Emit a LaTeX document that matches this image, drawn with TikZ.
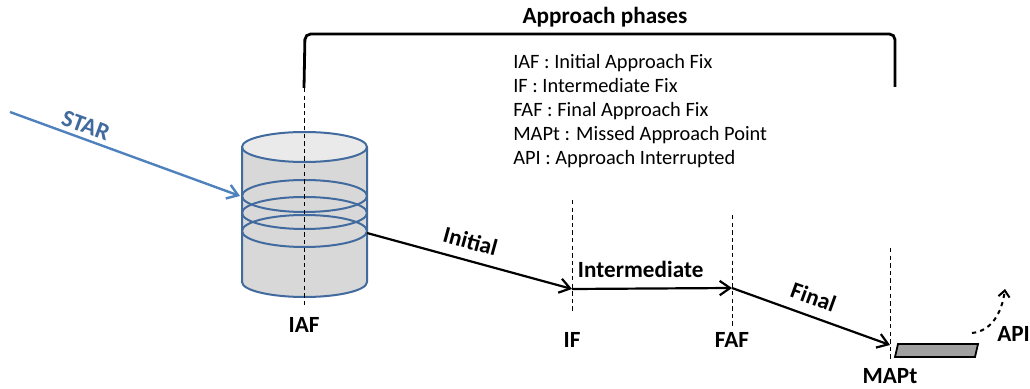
\documentclass[tikz,border=0pt]{standalone}
\usepackage{fontspec}
\setmainfont{Carlito}
\usetikzlibrary{positioning,arrows.meta,calc}
\definecolor{starblue}{RGB}{79,129,189}
\definecolor{drumblue}{RGB}{65,106,158}
\definecolor{drumgray}{RGB}{216,216,216}
\definecolor{lidgray}{RGB}{234,234,234}
\definecolor{rwygray}{RGB}{160,160,160}
\tikzstyle{fixline}=[dash pattern=on 1.1mm off 0.8mm, line width=0.7pt]
\tikzstyle{fixlbl}=[font=\bfseries\fontsize{16.5}{18}\selectfont, inner sep=0pt]
\tikzstyle{segarrow}=[-{Straight Barb[length=2.6mm,width=3.6mm]}, line width=0.55mm]
\tikzstyle{seglbl}=[font=\bfseries\fontsize{16.5}{18}\selectfont, sloped, above, inner sep=7pt]

\begin{document}
\begin{tikzpicture}[x=0.25mm, y=-0.25mm]
\useasboundingbox (0,0) rectangle (1030,389);

% holding pattern drum
\fill[drumgray] (242,147) -- (242,282) arc[start angle=180, end angle=0, x radius=62.5, y radius=15] -- (367,147) -- cycle;
\draw[drumblue, line width=0.5mm] (242,147) -- (242,282) arc[start angle=180, end angle=0, x radius=62.5, y radius=15] -- (367,147);
\filldraw[drumblue, fill=lidgray, line width=0.5mm] (304.5,147) ellipse[x radius=62.5, y radius=15];
\foreach \ry in {196,213,231}
  \draw[drumblue, line width=0.5mm] (304.5,\ry) ellipse[x radius=62.5, y radius=16];

% fix points on the approach path
\coordinate (hold) at (367,233);
\coordinate (IFpt) at (572,289);
\coordinate (FAFpt) at (732,288);
\coordinate (MAPtpt) at (890,345);

% vertical fix markers
\coordinate (IAFtop) at (304,88);  \coordinate (IAFbot) at (304,305);
\coordinate (IFtop) at (572,200);  \coordinate (IFbot) at (572,313);
\coordinate (FAFtop) at (732,215); \coordinate (FAFbot) at (732,328);
\coordinate (MAPttop) at (890,248); \coordinate (MAPtbot) at (890,362);
\draw[fixline] (IAFtop) -- (IAFbot);
\draw[fixline] (IFtop) -- (IFbot);
\draw[fixline] (FAFtop) -- (FAFbot);
\draw[fixline] (MAPttop) -- (MAPtbot);
\node (IAF) [fixlbl] at (304,325) {IAF};
\node (IF) [fixlbl] at (572,340) {IF};
\node (FAF) [fixlbl] at (732,340) {FAF};
\node (MAPt) [fixlbl] at (890,376) {MAPt};

% brace over the approach phases
\draw[line width=0.7mm, rounded corners=4pt] (IAFtop) -- (305,34) -- (895,34) -- (895,87);
\node (phases) [font=\bfseries\fontsize{16.5}{18}\selectfont] at (605,17) {Approach phases};

% legend
\node (legend) [anchor=west, align=left, inner sep=0pt,
  font=\fontsize{14.5}{17.2}\selectfont] at (513,111)
  {IAF : Initial Approach Fix\\
   IF : Intermediate Fix\\
   FAF : Final Approach Fix\\
   MAPt : Missed Approach Point\\
   API : Approach Interrupted};

% arrival into the hold
\coordinate (starin) at (10,112);
\coordinate (ring) at (240,196);
\draw[starblue, line width=0.6mm, -{Straight Barb[length=2.6mm,width=3.6mm]}] (starin) -- (ring)
  node[pos=0.31, sloped, above, inner sep=3pt, text=drumblue, font=\bfseries\fontsize{17}{19}\selectfont] {STAR};

% approach segments
\draw[segarrow] (hold) -- (IFpt) node[seglbl, midway, xshift=-3pt] {Initial};
\draw[segarrow] (IFpt) -- (FAFpt) node[seglbl, midway, xshift=-8pt] {Intermediate};
\draw[segarrow] (FAFpt) -- (MAPtpt) node[seglbl, midway, xshift=-3pt] {Final};

% runway
\filldraw[fill=rwygray, line width=0.45mm] (898,344) -- (978,344) -- (975,357) -- (895,357) -- cycle;

% interrupted approach
\coordinate (apifrom) at (972,333);
\coordinate (apito) at (1005,289);
\draw[dashed, line width=0.5mm, -{Straight Barb[length=1.6mm,width=2.8mm]}] (apifrom) .. controls (992,331) and (1002,312) .. (apito);
\node (API) [fixlbl, anchor=west] at (997,334) {API};

\end{tikzpicture}
\end{document}
